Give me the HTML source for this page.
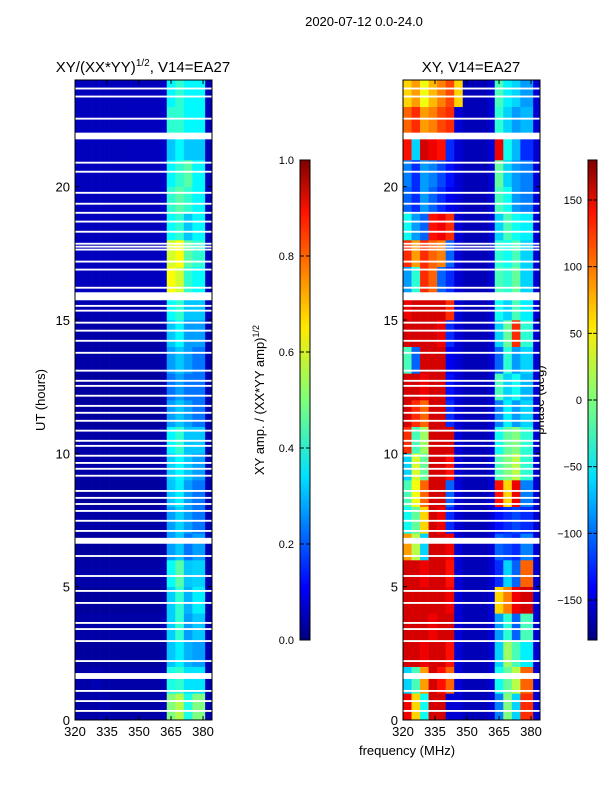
<!DOCTYPE html>
<html><head><meta charset="utf-8">
<style>
body{margin:0;background:#fff;}
svg text{font-family:"Liberation Sans","DejaVu Sans",sans-serif;fill:#000;}
</style></head>
<body>
<svg id="fig" width="600" height="800" xmlns="http://www.w3.org/2000/svg">
<defs>
<linearGradient id="jet" x1="0" y1="1" x2="0" y2="0">
<stop offset="0" stop-color="#00007f"/><stop offset="0.11" stop-color="#0000ff"/>
<stop offset="0.34" stop-color="#00e0ff"/><stop offset="0.5" stop-color="#7dff7a"/>
<stop offset="0.65" stop-color="#ffea00"/><stop offset="0.89" stop-color="#ff1300"/>
<stop offset="1" stop-color="#7f0000"/>
</linearGradient>
</defs>
<text x="364" y="26" font-size="13" text-anchor="middle">2020-07-12 0.0-24.0</text>
<text x="143" y="72" font-size="15" text-anchor="middle">XY/(XX*YY)<tspan font-size="10" dy="-6">1/2</tspan><tspan dy="6">, V14=EA27</tspan></text>
<text x="471" y="72" font-size="15" text-anchor="middle">XY, V14=EA27</text>
<text transform="translate(45,400) rotate(-90)" font-size="13" text-anchor="middle">UT (hours)</text>
<text x="407" y="755" font-size="13" text-anchor="middle">frequency (MHz)</text>
<text transform="translate(264,400) rotate(-90)" font-size="13" text-anchor="middle">XY amp. / (XX*YY amp)<tspan font-size="9" dy="-5">1/2</tspan></text>
<text transform="translate(544,400) rotate(-90)" font-size="13" text-anchor="middle">phase (deg)</text>
<g id="left"></g>
<g id="right"></g>
<g id="axes"></g>
<rect x="300" y="160" width="10" height="480" fill="url(#jet)" stroke="#000" stroke-width="1"/>
<rect x="588" y="160" width="9" height="480" fill="url(#jet)" stroke="#000" stroke-width="1"/>
<g id="cbticks"></g>
</svg>
<script>
const freqBins=[320,324,328,332,336,340,344,348,352,356,360,363,367,371,375,381];
const ampRows=[
[.04,.04,.04,.05,.04,.04,.04,.04,.04,.04,.05,.5,.55,.4,.5,.05],
[.04,.04,.05,.04,.04,.04,.04,.04,.04,.04,.05,.4,.42,.35,.35,.05],
[.03,.03,.03,.03,.03,.03,.03,.03,.03,.03,.04,.32,.36,.3,.28,.05],
[.04,.04,.04,.04,.04,.04,.04,.04,.04,.04,.05,.33,.42,.28,.32,.05],
[.03,.03,.03,.03,.03,.03,.03,.03,.03,.03,.04,.33,.42,.3,.36,.05],
[.04,.04,.04,.04,.04,.04,.04,.04,.04,.04,.05,.38,.46,.32,.33,.05],
[.03,.03,.03,.03,.03,.03,.03,.03,.03,.03,.04,.28,.32,.24,.28,.05],
[.04,.04,.04,.04,.04,.04,.04,.04,.04,.04,.05,.28,.33,.28,.24,.05],
[.03,.03,.03,.03,.03,.03,.03,.03,.03,.03,.04,.32,.36,.28,.24,.05],
[.04,.04,.04,.04,.04,.04,.04,.04,.04,.04,.05,.33,.37,.32,.28,.05],
[.04,.04,.04,.04,.04,.04,.04,.04,.04,.04,.05,.37,.42,.32,.32,.05],
[.03,.03,.03,.03,.03,.03,.03,.03,.03,.03,.04,.28,.32,.28,.24,.05],
[.03,.03,.03,.03,.03,.03,.03,.03,.03,.03,.04,.24,.28,.24,.24,.05],
[.04,.04,.04,.04,.04,.04,.04,.04,.04,.04,.05,.28,.32,.28,.24,.05],
[.04,.04,.04,.04,.04,.04,.04,.04,.04,.04,.05,.32,.37,.28,.28,.05],
[.05,.05,.05,.05,.05,.05,.05,.05,.05,.05,.06,.38,.42,.32,.32,.06],
[.06,.06,.06,.06,.06,.06,.06,.06,.06,.06,.07,.62,.58,.42,.38,.06],
[.06,.06,.06,.06,.06,.06,.06,.06,.06,.06,.07,.58,.62,.46,.42,.06],
[.06,.06,.06,.06,.06,.06,.06,.06,.06,.06,.07,.38,.42,.32,.37,.06],
[.06,.06,.06,.06,.06,.06,.06,.06,.06,.06,.07,.42,.46,.42,.37,.06],
[.06,.06,.06,.06,.06,.06,.06,.06,.06,.06,.07,.37,.42,.46,.37,.06],
[.06,.06,.06,.06,.06,.06,.06,.06,.06,.06,.07,.32,.37,.32,.32,.06],
[.06,.06,.06,.06,.06,.06,.06,.06,.06,.06,.07,.42,.42,.37,.37,.06],
[.06,.06,.06,.06,.06,.06,.06,.06,.06,.06,.07,.37,.42,.37,.37,.06]
];
const phaseRows=[
[140,60,-40,150,150,-150,-150,-160,-160,-160,-150,-90,0,-60,120,-150],
[-60,-20,80,150,130,100,-150,-160,-160,-160,-150,-40,-10,20,100,-150],
[150,150,140,150,150,130,-150,-160,-160,-160,-150,-60,10,-20,-50,-150],
[150,150,150,140,150,150,-150,-160,-160,-160,-150,-80,-30,-100,-20,-150],
[150,150,150,150,150,140,-150,-160,-160,-160,-150,60,90,140,150,-150],
[150,150,140,150,150,130,-150,-160,-160,-160,-150,-120,-60,-100,100,-150],
[80,20,-60,150,150,140,-150,-160,-160,-160,-150,-100,-110,-120,-90,-150],
[-40,-10,60,150,140,-120,-150,-160,-160,-160,-150,-130,-120,-110,-120,-150],
[-20,40,100,150,150,-100,-150,-160,-160,-160,-150,130,60,140,-90,-150],
[-60,30,-10,150,150,130,-150,-160,-160,-160,-150,-20,0,20,-30,-150],
[120,-20,10,150,150,150,-150,-160,-160,-160,-150,-40,-10,0,-30,-150],
[150,120,100,150,150,-120,-150,-160,-160,-160,-150,-90,-50,-80,-60,-150],
[150,150,140,150,150,-130,-150,-160,-160,-160,-150,-20,-60,-40,-70,-150],
[-20,-100,150,150,150,-140,-150,-160,-160,-160,-150,-100,-30,-80,-60,-150],
[150,150,150,150,140,-120,-150,-160,-160,-160,-150,-60,-10,120,-30,-150],
[140,150,150,150,150,120,-150,-160,-160,-160,-150,-40,-60,-20,-50,-150],
[-80,-30,120,100,-100,-120,-150,-160,-160,-160,-150,-20,-30,-10,-60,-150],
[120,80,120,100,90,-100,-150,-160,-160,-160,-150,-30,-40,-20,-60,-150],
[-40,-80,-100,130,140,120,-150,-160,-160,-160,-150,-60,-20,-40,-50,-150],
[-100,-120,-80,-100,-120,-140,-150,-160,-160,-160,-150,-20,-40,-80,-90,-150],
[-90,-120,-80,-90,-110,-130,-150,-160,-160,-160,-150,-10,-60,-80,-90,-150],
[130,-60,150,140,130,-120,-150,-160,-160,-160,-150,140,-40,-70,-120,-150],
[100,120,80,90,110,120,-150,-160,-160,-160,-150,-30,-60,-80,-70,-150],
[60,80,40,70,90,110,60,-160,-160,-160,-150,-20,-50,-60,-80,-150]
];
const gapHours=[23.68,23.38,22.55,21.9,20.9,20.56,19.77,19.36,19.02,18.69,18.31,17.86,17.75,17.64,17.19,16.89,16.21,15.89,15.53,15.35,14.9,14.6,14.22,13.77,13.1,12.72,12.53,12.16,11.78,11.52,11.22,10.85,10.47,10.28,9.91,9.64,9.42,9.16,8.59,8.33,8.1,7.84,7.47,7.09,6.72,6.15,5.4,4.84,4.39,3.64,3.41,2.96,2.21,1.65,1.09,0.71,0.34];
const gapWidths=[.07,.07,.07,.25,.07,.07,.07,.07,.07,.07,.07,.07,.07,.07,.07,.07,.07,.3,.07,.07,.07,.07,.07,.07,.07,.07,.07,.07,.07,.07,.07,.07,.07,.07,.07,.07,.07,.07,.07,.07,.07,.07,.07,.07,.22,.07,.07,.07,.07,.07,.07,.07,.07,.22,.07,.07,.07];
const xTicks=[320,335,350,365,380];
const yTicks=[0,5,10,15,20];
const ampTicks=[0.0,0.2,0.4,0.6,0.8,1.0];
const phaseTicks=[-150,-100,-50,0,50,100,150];

const NS="http://www.w3.org/2000/svg";
const PT=80,PB=720,FMIN=320,FMAX=384.2,HMAX=24;
function xs(f,x0){return x0+(f-FMIN)/(FMAX-FMIN)*137;}
function ys(h){return PB-h/HMAX*(PB-PT);}
function jet(v){v=Math.max(0,Math.min(1,v));
 const c=t=>Math.round(255*Math.max(0,Math.min(1,t)));
 return `rgb(${c(1.5-Math.abs(4*v-3))},${c(1.5-Math.abs(4*v-2))},${c(1.5-Math.abs(4*v-1))})`;}
function mk(tag,at,parent){const e=document.createElementNS(NS,tag);for(const k in at)e.setAttribute(k,at[k]);parent.appendChild(e);return e;}
function heat(g,rows,x0,norm){
 rows.forEach((row,h)=>{row.forEach((v,i)=>{
  const f0=freqBins[i],f1=i<freqBins.length-1?freqBins[i+1]:FMAX;
  const r=mk('rect',{x:xs(f0,x0),y:ys(h+1),width:xs(f1,x0)-xs(f0,x0)+0.3,height:ys(h)-ys(h+1)+0.3,fill:jet(norm(v))},g);
  
  
 });});
 gapHours.forEach((gh,i)=>{
  const r=mk('rect',{x:x0,y:ys(gh+gapWidths[i]/2),width:137,height:Math.max(1.5,ys(gh-gapWidths[i]/2)-ys(gh+gapWidths[i]/2)),fill:'#fff'},g);
  
  
 });
}
heat(document.getElementById('left'),ampRows,75,v=>v);
heat(document.getElementById('right'),phaseRows,403,v=>(v+180)/360);
const ax=document.getElementById('axes');
[75,403].forEach(x0=>{
 const fr=mk('rect',{x:x0,y:PT,width:137,height:PB-PT,fill:'none',stroke:'#000','stroke-width':1},ax);
 
 
 xTicks.forEach(t=>{const x=xs(t,x0);
  mk('line',{x1:x,x2:x,y1:PB,y2:PB-4,stroke:'#000'},ax);mk('line',{x1:x,x2:x,y1:PT,y2:PT+4,stroke:'#000'},ax);
  const tx=mk('text',{x:x,y:PB+16,'font-size':13,'text-anchor':'middle'},ax);tx.textContent=t;
  
  });
 yTicks.forEach(t=>{const y=ys(t);
  mk('line',{x1:x0,x2:x0+4,y1:y,y2:y,stroke:'#000'},ax);mk('line',{x1:x0+137,x2:x0+133,y1:y,y2:y,stroke:'#000'},ax);
  const tx=mk('text',{x:x0-5,y:y+5,'font-size':13,'text-anchor':'end'},ax);tx.textContent=t;
  
  });
});
const cb=document.getElementById('cbticks');
ampTicks.forEach(t=>{const y=640-t*480;
 mk('line',{x1:300,x2:304,y1:y,y2:y,stroke:'#000'},cb);mk('line',{x1:310,x2:306,y1:y,y2:y,stroke:'#000'},cb);
 const tx=mk('text',{x:294,y:y+4,'font-size':11,'text-anchor':'end'},cb);tx.textContent=t.toFixed(1);
 
 });
phaseTicks.forEach(t=>{const y=640-(t+180)/360*480;
 mk('line',{x1:588,x2:592,y1:y,y2:y,stroke:'#000'},cb);mk('line',{x1:597,x2:593,y1:y,y2:y,stroke:'#000'},cb);
 const tx=mk('text',{x:582,y:y+4,'font-size':11,'text-anchor':'end'},cb);tx.textContent=t<0?'\u2212'+(-t):t;
 
 });
</script>
</body></html>
